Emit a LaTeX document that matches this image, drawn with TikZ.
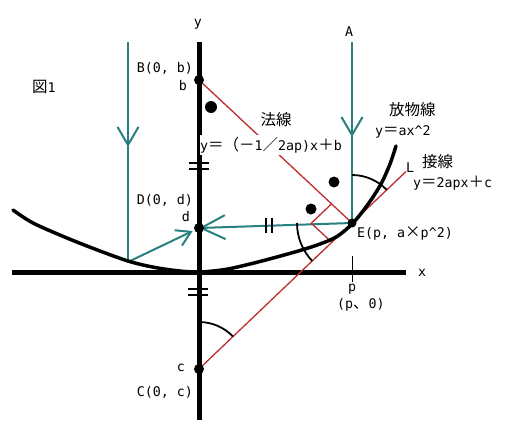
\documentclass[tikz,border=0pt]{standalone}
\usepackage{fontspec}
\setmainfont{DejaVu Sans Mono}
\newfontfamily\jpfont{Noto Sans CJK JP}
\usetikzlibrary{arrows.meta,decorations.markings,calc}
\definecolor{tealc}{RGB}{40,128,128}
\definecolor{redc}{RGB}{190,45,45}
\newcommand\J[1]{{\jpfont\fontsize{15.5}{16}\selectfont #1}}
\begin{document}
\begin{tikzpicture}[x=1pt,y=-1pt,
  lbl/.style={font=\fontsize{13.3}{16}\selectfont, inner sep=0pt},
  axisline/.style={line width=5pt},
  curve/.style={line width=3.5pt, line join=round, line cap=round},
  ray/.style={tealc, line width=2pt},
  redline/.style={redc, line width=1.3pt},
  anglearc/.style={line width=1.8pt},
  tickmark/.style={line width=1.4pt},
  dot/.style={fill=black},
  midarrow/.style={postaction={decorate}, decoration={markings, mark=at position #1 with {\arrow{Straight Barb[length=18pt,width=21pt]}}}},
]
\fill[white] (0,0) rectangle (506,434);
\useasboundingbox (0,0) rectangle (506,434);
% points
\coordinate (O) at (199,272);
\coordinate (Ytop) at (199,42);
\coordinate (Ybot) at (199,420);
\coordinate (Xl) at (12,272);
\coordinate (Xr) at (406,272);
\coordinate (B) at (199,80);
\coordinate (D) at (199,228);
\coordinate (C) at (199,369);
\coordinate (E) at (352,223);
\coordinate (P) at (128,262);
\coordinate (Atop) at (352,42);
\coordinate (Ltop) at (128,42);
\coordinate (Lend) at (406,171.5);
\coordinate (N1) at (331.5,203.9);
\coordinate (Q) at (311.3,223.2);
\coordinate (T1) at (331.8,242.3);
% axes
\draw[axisline] (Ytop) -- (Ybot);
\draw[axisline] (Xl) -- (Xr);
% teal rays
\draw[ray, midarrow=0.477] (Ltop) -- (P);
\draw[ray, midarrow=0.525] (Atop) -- (E);
\draw[ray, shorten >=7pt, -{Straight Barb[length=14pt,width=17pt]}] (P) -- (D);
\draw[ray, -{Straight Barb[length=24pt,width=24pt]}] (E) -- (D);
% red lines
\draw[redline] (B) -- (E);
\draw[redline] (C) -- (Lend);
\draw[redline] (N1) -- (Q) -- (T1);
% parabola
\draw[curve] plot[smooth, tension=0.55] coordinates {(13,210) (33,223) (67,238) (100,251) (128,261) (150,266.5) (175,270.5) (199,272) (225,269.5) (250,264) (275,257.5) (300,250.5) (320,244) (337,236.5) (352,224) (363,211) (373,197) (382,182) (390,164) (396,146)};
% angle arcs
\draw[anglearc] ($(E)+(0,-48)$) arc[start angle=-90, end angle=-43.6, radius=48];
\draw[anglearc] ($(E)+(-55,0)$) arc[start angle=180, end angle=136.4, radius=55];
\draw[anglearc] ($(C)+(0,-47)$) arc[start angle=-90, end angle=-43.6, radius=47];
% tick marks
\draw[tickmark] (189,163) -- (209,163);
\draw[tickmark] (189,169) -- (209,169);
\draw[tickmark] (188,289) -- (208,289);
\draw[tickmark] (188,295) -- (208,295);
\draw[tickmark] (266,218) -- (266,233);
\draw[tickmark] (272,218) -- (272,233);
\draw[line width=1pt] (352,256) -- (352,282);
% angle dots
\fill[dot] (211,107) circle[radius=6];
\fill[dot] (334,182) circle[radius=5.5];
\fill[dot] (311,209) circle[radius=5.5];
% point dots
\fill[dot] (B) circle[radius=5];
\fill[dot] (D) circle[radius=5];
\fill[dot] (C) circle[radius=5];
\fill[dot] (E) circle[radius=4.5];
% labels
\node[lbl, anchor=west] (fig) at (32,87) {\J{図}1};
\node[lbl] (ylab) at (198,24) {y};
\node[lbl] (Alab) at (349,32) {A};
\node[lbl, anchor=east] (Blab) at (193,68) {B(0, b)};
\node[lbl] (blab) at (183,86) {b};
\node[lbl] (norm) at (276,120) {\J{法線}};
\node[lbl, fill=white, inner ysep=2pt, anchor=west] (normeq) at (200,145) {y\J{＝（－}1\J{／}2ap)x\J{＋}b};
\node[lbl, anchor=west] (parab) at (389,110) {\J{放物線}};
\node[lbl, anchor=west] (parabeq) at (375,132) {y\J{＝}ax\textasciicircum2};
\node[lbl] (Llab) at (410,168) {L};
\node[lbl, anchor=west] (tan) at (422,162) {\J{接線}};
\node[lbl, anchor=west] (taneq) at (413,183) {y\J{＝}2apx\J{＋}c};
\node[lbl, anchor=east] (Dlab) at (193,200) {D(0, d)};
\node[lbl] (dlab) at (186,217) {d};
\node[lbl, anchor=west] (Elab) at (357,233) {E(p, a\J{×}p\textasciicircum2)};
\node[lbl] (xlab) at (422,273) {x};
\node[lbl] (plab) at (352,289) {p};
\node[lbl, anchor=west] (p0lab) at (337,305) {(p\J{、}0)};
\node[lbl] (clab) at (181,368) {c};
\node[lbl, anchor=east] (Clab) at (193,392) {C(0, c)};
\end{tikzpicture}
\end{document}
